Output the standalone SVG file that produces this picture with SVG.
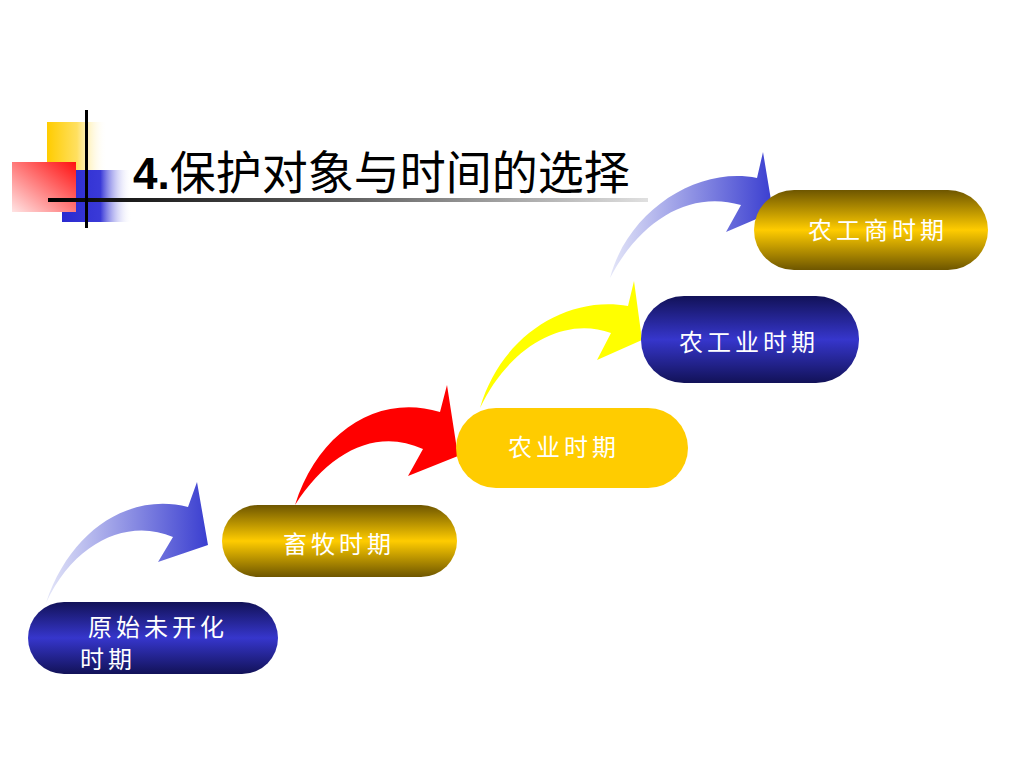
<svg xmlns="http://www.w3.org/2000/svg" width="1024" height="768" viewBox="0 0 1024 768">
<defs>
<linearGradient id="gBlue" x1="0" y1="0" x2="0" y2="1">
<stop offset="0" stop-color="#121258"/><stop offset="0.5" stop-color="#3636cc"/><stop offset="1" stop-color="#121258"/>
</linearGradient>
<linearGradient id="gGold" x1="0" y1="0" x2="0" y2="1">
<stop offset="0" stop-color="#6e5600"/><stop offset="0.5" stop-color="#ffcc00"/><stop offset="1" stop-color="#6e5600"/>
</linearGradient>
<linearGradient id="gArrow" x1="0" y1="0" x2="1" y2="0">
<stop offset="0" stop-color="#e4e6f8"/><stop offset="1" stop-color="#3a3ed0"/>
</linearGradient>
<linearGradient id="gYel" x1="0" y1="0" x2="1" y2="0">
<stop offset="0" stop-color="#ffcc00"/><stop offset="0.5" stop-color="#ffe060"/><stop offset="1" stop-color="#ffffff" stop-opacity="0"/>
</linearGradient>
<linearGradient id="gRed" x1="1" y1="0" x2="0" y2="1">
<stop offset="0" stop-color="#ff1010"/><stop offset="1" stop-color="#ffe4e4"/>
</linearGradient>
<linearGradient id="gBl" x1="0" y1="0" x2="1" y2="0">
<stop offset="0" stop-color="#2a2ad0"/><stop offset="0.55" stop-color="#3a3ad8"/><stop offset="1" stop-color="#ffffff" stop-opacity="0"/>
</linearGradient>
<linearGradient id="gLine" x1="0" y1="0" x2="1" y2="0">
<stop offset="0" stop-color="#000000"/><stop offset="0.5" stop-color="#606060"/><stop offset="1" stop-color="#e0e0e0"/>
</linearGradient>
<style>
.lbl{font-family:"Noto Sans CJK SC","Noto Sans",sans-serif;font-size:24px;fill:#ffffff;letter-spacing:4px}
.title{font-family:"Liberation Sans","Noto Sans CJK SC",sans-serif;font-size:44px;fill:#000000}
</style>
</defs>
<rect width="1024" height="768" fill="#ffffff"/>
<g id="title-deco">
<rect x="47" y="122" width="60" height="50" fill="url(#gYel)"/>
<rect x="62" y="170" width="70" height="52" fill="url(#gBl)"/>
<rect x="12" y="162" width="64" height="50" fill="url(#gRed)"/>
<rect x="48" y="198" width="600" height="4" fill="url(#gLine)"/>
<rect x="85" y="110" width="3" height="118" fill="#000000"/>
</g>
<g id="title">
<text class="title" x="133" y="189"><tspan font-weight="bold">4.</tspan><tspan font-family="Noto Sans CJK SC, sans-serif" font-size="46">保护对象与时间的选择</tspan></text>
</g>
<g id="connectors">
<path d="M46,603 C70,530 130,492 188,507 L197,482 L208,545 L158,562 L173,537 C130,518 75,540 46,603 Z" fill="url(#gArrow)"/>
<path d="M295,505 C318,432 378,393 440,412 L447,385 L458,456 L408,476 L423,449 C378,428 330,450 295,505 Z" fill="#ff0000"/>
<path d="M480,408 C500,338 565,295 628,306 L634,281 L642,340 L597,360 L611,333 C565,316 510,345 480,408 Z" fill="#ffff00"/>
<path d="M610,278 C628,210 698,166 757,178 L763,152 L773,212 L726,232 L741,205 C690,190 640,220 610,278 Z" fill="url(#gArrow)"/>
</g>
<g id="n1">
<rect x="28" y="602" width="250" height="72" rx="36" fill="url(#gBlue)"/>
<text class="lbl" x="88" y="636">原始未开化</text>
<text class="lbl" x="80" y="668">时期</text>
</g>
<g id="n2">
<rect x="222" y="505" width="235" height="72" rx="36" fill="url(#gGold)"/>
<text class="lbl" x="339" y="553" text-anchor="middle">畜牧时期</text>
</g>
<g id="n3">
<rect x="456" y="408" width="232" height="80" rx="40" fill="#ffcc00"/>
<text class="lbl" x="564" y="456" text-anchor="middle">农业时期</text>
</g>
<g id="n4">
<rect x="641" y="296" width="218" height="87" rx="43" fill="url(#gBlue)"/>
<text class="lbl" x="749" y="351" text-anchor="middle">农工业时期</text>
</g>
<g id="n5">
<rect x="754" y="190" width="234" height="80" rx="40" fill="url(#gGold)"/>
<text class="lbl" x="878" y="239" text-anchor="middle" fill="#fff4d0">农工商时期</text>
</g>
</svg>
